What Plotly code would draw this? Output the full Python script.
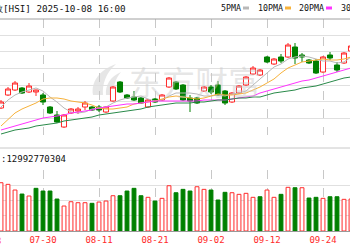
import plotly.graph_objects as go

dates = ["07-22","07-23","07-24","07-25","07-28","07-29","07-30","07-31","08-01","08-04",
         "08-05","08-06","08-07","08-08","08-11","08-12","08-13","08-14","08-15","08-18",
         "08-19","08-20","08-21","08-22","08-25","08-26","08-27","08-28","08-29","09-01",
         "09-02","09-03","09-04","09-05","09-08","09-09","09-10","09-11","09-12","09-15",
         "09-16","09-17","09-18","09-19","09-22","09-23","09-24","09-25","09-26","09-29","09-30"]

open_ = [24810,25200,25350,25410,25290,25290,25200,24840,24600,24240,
         24660,24720,24840,24840,24840,24690,25020,25590,25200,25140,
         25110,24840,25080,25050,25440,25590,25500,25110,25110,25320,
         25440,25500,25320,24990,25260,25500,25830,25800,26340,26130,
         26340,26340,26640,26400,26250,26220,25890,26400,26100,26160,26520]
close = [24990,25380,25560,25260,25470,25350,24990,24660,24390,24600,
         24780,24780,24960,24750,24750,24840,25440,25290,25110,25050,
         24960,25050,24990,25200,25710,25380,25050,25020,24960,25440,
         25290,25200,24960,25260,25470,25740,26010,25950,26190,26280,
         26220,26700,26310,26340,26160,25860,26340,26310,25950,26460,26670]
high = [25050,25440,25620,25440,25560,25360,25260,24870,24720,24630,
        24810,24840,25020,24870,24900,24870,25470,25620,25230,25320,
        25140,25080,25110,25230,25740,25620,25530,25200,25140,25470,
        25500,25620,25350,25290,25500,25770,26070,25980,26370,26310,
        26430,26760,26760,26460,26280,26280,26370,26490,26190,26490,26700]
low = [24780,25170,25320,25230,25260,25170,24900,24630,24360,24210,
       24630,24630,24750,24720,24690,24660,25000,25260,25080,25020,
       24930,24810,24960,25020,25410,25350,25020,24690,24930,25290,
       25230,25170,24900,24960,25230,25470,25800,25770,26160,26100,
       26160,26310,26130,26190,26130,25830,25860,26250,25890,26130,26490]

ma5 = [24840,25050,25200,25290,25350,25410,25320,25140,24990,24810,
       24690,24660,24690,24780,24810,24840,24960,25050,25110,25140,
       25170,25080,25020,25050,25170,25260,25260,25260,25230,25170,
       25170,25200,25170,25230,25260,25320,25500,25680,25860,26040,
       26130,26280,26340,26370,26340,26280,26220,26220,26160,26190,26340]
ma10 = [24270,24480,24660,24780,24870,24960,25080,25110,25110,25080,
        25020,24990,24960,24900,24810,24780,24780,24810,24840,24930,
        24960,24990,25020,25080,25140,25170,25140,25110,25080,25110,
        25170,25230,25200,25200,25230,25260,25350,25440,25560,25680,
        25860,26010,26100,26190,26220,26250,26280,26250,26250,26280,26340]
ma20 = [24150,24210,24270,24330,24390,24450,24510,24540,24570,24600,
        24660,24690,24720,24750,24810,24840,24870,24900,24930,24930,
        24960,24990,25020,25020,25020,25020,25020,25020,25020,25050,
        25050,25050,25050,25080,25110,25140,25170,25260,25320,25380,
        25440,25500,25560,25620,25650,25710,25770,25830,25890,25950,26010]
ma30 = [24030,24090,24150,24180,24210,24270,24300,24330,24360,24420,
        24450,24480,24510,24540,24600,24630,24660,24690,24720,24750,
        24780,24840,24870,24900,24930,24960,24960,24960,24990,24990,
        25020,25050,25050,25080,25110,25110,25140,25140,25200,25260,
        25290,25320,25350,25410,25440,25470,25530,25590,25650,25710,25740]

volume = [157.5,152.2,133.7,120.6,114.1,139.2,130.4,130.4,104.3,81.5,
          95.5,92.3,92.3,90.3,94.5,97.8,115.1,115.1,130.4,139.2,
          115.1,109.9,97.8,106.6,147.7,124.9,135.9,130.4,144.4,135.9,
          133.7,101.1,126.2,124.9,119.6,122.9,109.9,111.8,133.7,109.9,
          119.6,142.5,141.2,141.2,107.6,109.9,106.6,111.8,111.8,103.3,104.3]
vol_dir = ["u","u","u","d","u","d","d","d","d","u",
           "u","u","u","d","u","u","u","d","d","d",
           "d","u","d","u","u","d","d","d","u","u",
           "d","d","d","u","u","u","u","d","u","u",
           "d","u","d","u","d","d","u","d","d","u","u"]

tick_dates = ["07-30","08-11","08-21","09-02","09-12","09-24"]
title_text = "恒生指数[HSI] 2025-10-08 16:00"
vol_text = ":12992770304"
legend_names = ["5PMA", "10PMA", "20PMA", "30PMA"]

RED = "#ff2a2a"
GREEN = "#008000"
MA_COLORS = ["#b8b8b8", "#f7b23b", "#ff33ff", "#2a8a4a"]
MONO = "DejaVu Sans Mono"
WM = "rgba(200,200,200,0.45)"

W, H = 350, 250
def px_x(p):
    return p / W
def px_y(p):
    return 1 - p / H

idx = list(range(len(dates)))

fig = go.Figure()

fig.add_trace(go.Candlestick(
    x=idx, open=open_, high=high, low=low, close=close,
    increasing=dict(line=dict(color=RED, width=1), fillcolor="white"),
    decreasing=dict(line=dict(color=GREEN, width=1), fillcolor=GREEN),
    whiskerwidth=0, showlegend=False, hoverinfo="skip",
    xaxis="x", yaxis="y"))

for ma, col in zip([ma5, ma10, ma20, ma30], MA_COLORS):
    fig.add_trace(go.Scatter(x=idx, y=ma, mode="lines",
                             line=dict(color=col, width=1),
                             showlegend=False, hoverinfo="skip",
                             xaxis="x", yaxis="y"))

fig.add_trace(go.Bar(
    x=idx, y=volume, width=0.55,
    marker=dict(color=["white" if d == "u" else GREEN for d in vol_dir],
                line=dict(color=[RED if d == "u" else GREEN for d in vol_dir], width=1)),
    showlegend=False, hoverinfo="skip", xaxis="x", yaxis="y2"))

tick_idx = [dates.index(d) for d in tick_dates]

fig.update_layout(
    width=W, height=H, margin=dict(l=0, r=0, t=0, b=0),
    paper_bgcolor="white", plot_bgcolor="white",
    boxgap=0.15, boxgroupgap=0.15,
    xaxis=dict(range=[-1/7, 349/7], anchor="y2", showgrid=True, gridcolor="#c8c8c8",
               griddash="dash", gridwidth=1, tickvals=tick_idx, ticktext=tick_dates,
               tickfont=dict(family=MONO, size=9, color=RED), ticks="", ticklen=0,
               showline=True, linecolor="#999999", linewidth=1, zeroline=False,
               rangeslider=dict(visible=False), fixedrange=True),
    yaxis=dict(domain=[px_y(135), px_y(19)], range=[24000, 27480], dtick=500, tick0=0,
               showticklabels=False, gridcolor="#e0e0e0", zeroline=False, ticks=""),
    yaxis2=dict(domain=[px_y(231), px_y(169.7)], range=[0, 200], dtick=50,
                showticklabels=False, gridcolor="#e0e0e0", zeroline=False, ticks=""),
)

def path_px(points):
    parts = []
    for cmd, *xy in points:
        coords = []
        for k in range(0, len(xy), 2):
            coords.append(f"{px_x(xy[k]):.5f},{px_y(xy[k + 1]):.5f}")
        parts.append(cmd + " " + " ".join(coords))
    return " ".join(parts) + " Z"

logo_paths = [
    [("M", 93, 95), ("C", 91, 82, 99, 70, 116, 64), ("C", 106, 73, 102, 84, 103, 95)],
    [("M", 106, 95), ("C", 105, 85, 110, 77, 121, 72), ("C", 115, 79, 113, 87, 114, 95)],
]

shapes = [
    dict(type="line", xref="paper", yref="paper", x0=0, x1=1, y0=px_y(19), y1=px_y(19),
         line=dict(color="#a0a0a0", width=1)),
    dict(type="line", xref="paper", yref="paper", x0=0, x1=1, y0=px_y(148), y1=px_y(148),
         line=dict(color="#c8c8c8", width=1)),
]
for lp in logo_paths:
    shapes.append(dict(type="path", xref="paper", yref="paper", path=path_px(lp),
                       fillcolor=WM, line=dict(width=0), layer="below"))

annotations = [
    dict(text="东方财富", xref="paper", yref="paper", x=px_x(195), y=px_y(81),
         showarrow=False, font=dict(family="Noto Sans CJK SC", size=33, color=WM),
         xanchor="center", yanchor="middle"),
    dict(text=title_text, xref="paper", yref="paper", x=px_x(128), y=px_y(8),
         showarrow=False, font=dict(family=MONO, size=9.25, color="#111111"),
         xanchor="right", yanchor="middle"),
    dict(text=vol_text, xref="paper", yref="paper", x=px_x(-1), y=px_y(159),
         showarrow=False, font=dict(family=MONO, size=9, color="#111111"),
         xanchor="left", yanchor="middle"),
    dict(text="07-18", xref="paper", yref="paper", x=px_x(-13), y=px_y(241),
         showarrow=False, font=dict(family=MONO, size=9, color=RED),
         xanchor="center", yanchor="middle"),
]
legend_x = [219, 256, 297, 339]
for name, col, lx in zip(legend_names, MA_COLORS, legend_x):
    annotations.append(dict(text=name, xref="paper", yref="paper", x=px_x(lx), y=px_y(8),
                            showarrow=False, font=dict(family=MONO, size=8.3, color="#111111"),
                            xanchor="left", yanchor="middle"))
    sx = lx + len(name) * 5.0 + 4
    shapes.append(dict(type="line", xref="paper", yref="paper", x0=px_x(sx), x1=px_x(sx + 6),
                       y0=px_y(8), y1=px_y(8), line=dict(color=col, width=3)))

fig.update_layout(shapes=shapes, annotations=annotations)
fig.write_html("out.html")
